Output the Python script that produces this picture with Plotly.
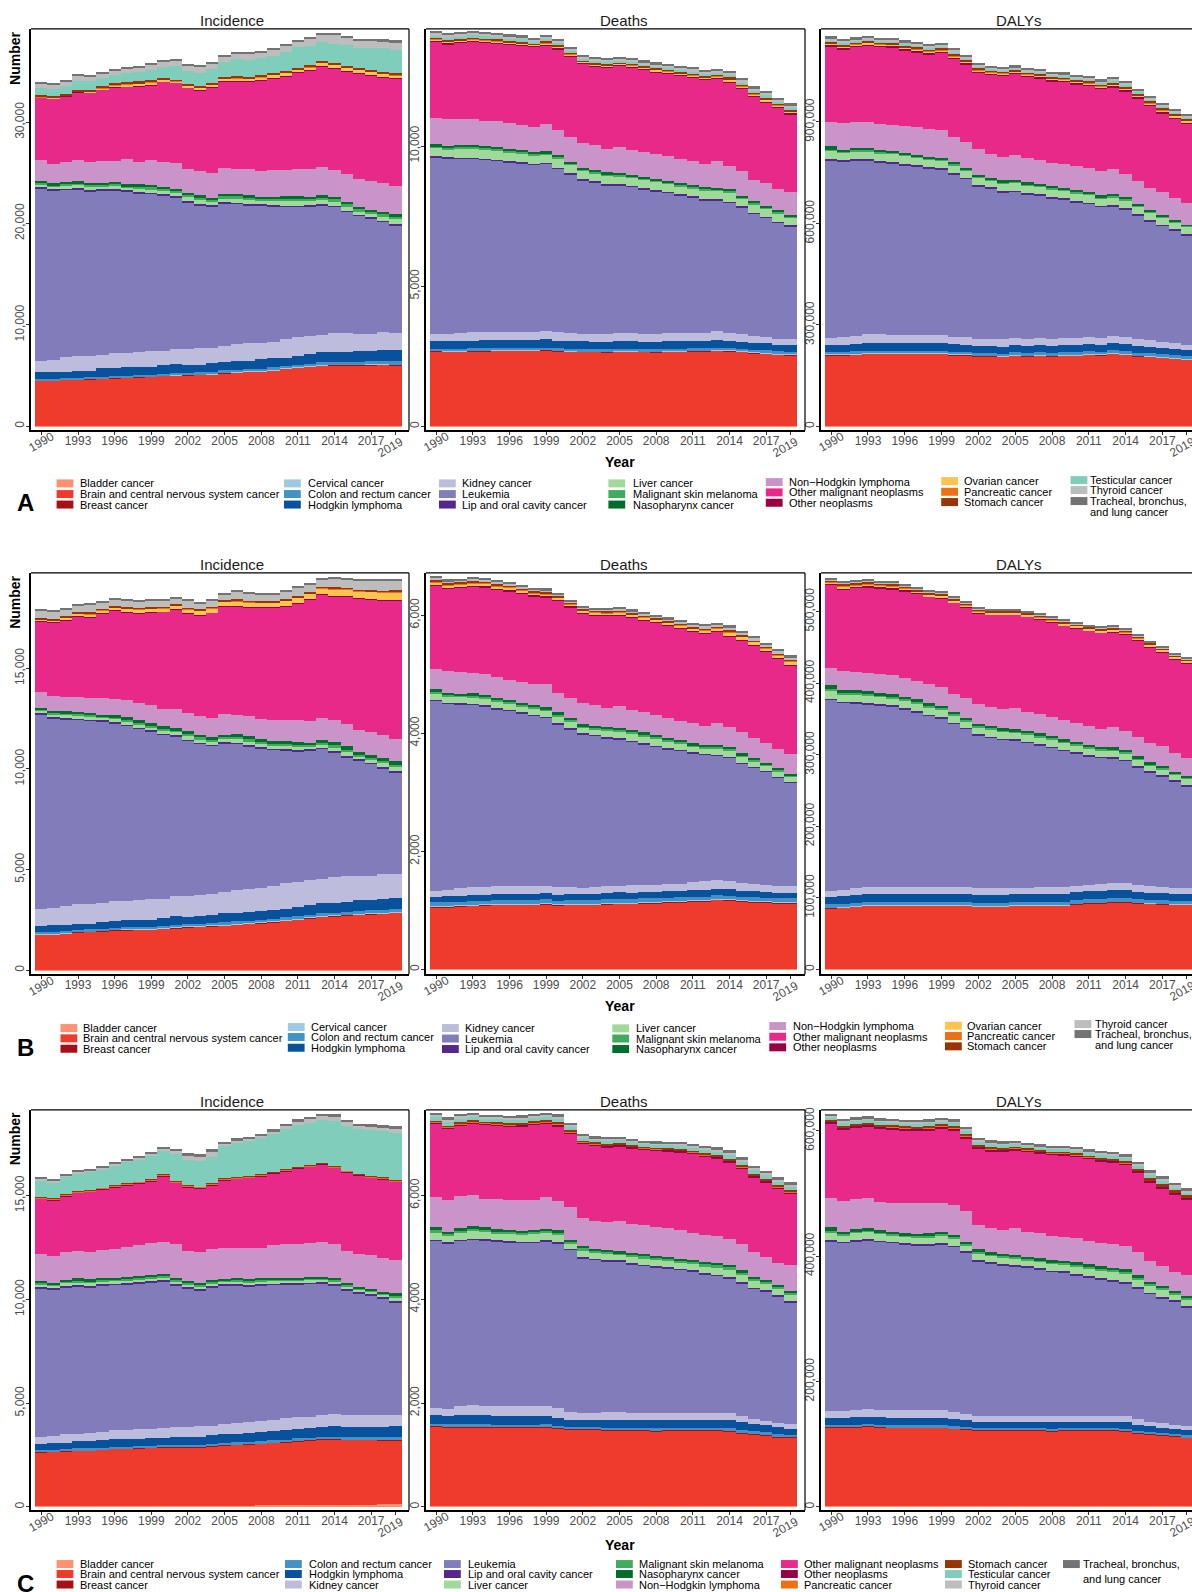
import plotly.graph_objects as go

# ---------------- data ----------------
YEARS = [1990, 1991, 1992, 1993, 1994, 1995, 1996, 1997, 1998, 1999,
         2000, 2001, 2002, 2003, 2004, 2005, 2006, 2007, 2008, 2009,
         2010, 2011, 2012, 2013, 2014, 2015, 2016, 2017, 2018, 2019]
XTICK_VALUES = [1990, 1993, 1996, 1999, 2002, 2005, 2008, 2011, 2014, 2017, 2019]

KEYS = ["bla", "bra", "bre", "cer", "col", "hod", "kid", "leu", "lip", "liv", "mel",
        "nas", "nhl", "omn", "one", "ova", "pan", "sto", "tes", "thy", "tra"]
CAUSE_NAMES = {
    "bla": "Bladder cancer", "bra": "Brain and central nervous system cancer",
    "bre": "Breast cancer", "cer": "Cervical cancer", "col": "Colon and rectum cancer",
    "hod": "Hodgkin lymphoma", "kid": "Kidney cancer", "leu": "Leukemia",
    "lip": "Lip and oral cavity cancer", "liv": "Liver cancer",
    "mel": "Malignant skin melanoma", "nas": "Nasopharynx cancer",
    "nhl": "Non\u2212Hodgkin lymphoma", "omn": "Other malignant neoplasms",
    "one": "Other neoplasms", "ova": "Ovarian cancer", "pan": "Pancreatic cancer",
    "sto": "Stomach cancer", "tes": "Testicular cancer", "thy": "Thyroid cancer",
    "tra": "Tracheal, bronchus, and lung cancer"}
CAUSE_COLORS = {
    "bla": "#FC9272", "bra": "#EF3B2C", "bre": "#A50F15", "cer": "#9ECAE1",
    "col": "#4292C6", "hod": "#08519C", "kid": "#BCBDDC", "leu": "#807DBA",
    "lip": "#54278F", "liv": "#A1D99B", "mel": "#41AB5D", "nas": "#006D2C",
    "nhl": "#C994C7", "omn": "#E7298A", "one": "#980043", "ova": "#FEC44F",
    "pan": "#EC7014", "sto": "#993404", "tes": "#7FCDBB", "thy": "#BDBDBD",
    "tra": "#737373"}

# ---- A: both sexes, Incidence ----
A_inc_bla = [50,50,50,50,50,50,50,50,50,50,50,50,50,50,50,50,50,50,50,50,55,55,55,55,55,55,55,55,55,55]
A_inc_bra = [4450,4450,4515,4550,4610,4645,4710,4745,4810,4845,4910,4975,5005,5040,5075,5205,5270,5335,5370,5465,5600,5700,5795,5925,5960,5960,5960,5990,6025,5960]
A_inc_bre = [25,25,25,25,25,25,25,25,25,25,30,30,30,30,30,30,30,30,30,30,35,35,35,35,35,40,40,40,40,40]
A_inc_cer = [20,20,20,20,20,20,20,20,20,20,20,20,20,20,20,20,20,20,20,20,20,20,20,20,20,20,20,20,20,20]
A_inc_col = [120,120,125,130,135,150,150,160,160,165,180,185,180,185,200,210,215,215,230,235,240,250,270,280,285,290,310,320,330,350]
A_inc_hod = [650,650,645,675,635,820,750,810,740,770,855,880,755,750,865,855,850,785,935,895,825,850,960,985,945,940,1050,1040,1030,1140]
A_inc_kid = [1150,1250,1410,1445,1480,1315,1480,1380,1545,1545,1410,1480,1575,1610,1480,1575,1675,1775,1575,1640,1840,1870,1740,1740,1905,1905,1675,1675,1775,1610]
A_inc_leu = [17040,16710,16550,16520,16250,16250,16090,16020,15660,15530,15330,15000,14510,14120,14020,14090,13860,13590,13590,13400,13040,12870,12840,12770,12450,11950,11660,11360,10900,10670]
A_inc_lip = [100,100,100,100,100,100,100,100,100,100,105,105,105,105,105,105,105,105,105,105,110,110,110,110,110,110,110,110,110,110]
A_inc_liv = [300,300,330,345,360,330,360,280,380,360,360,360,410,445,360,380,445,460,380,395,490,475,410,445,445,445,360,380,445,490]
A_inc_mel = [130,130,145,150,160,145,160,120,165,160,160,160,180,195,160,165,195,200,165,175,215,210,180,195,195,195,160,165,195,215]
A_inc_nas = [160,160,180,195,200,180,200,160,210,200,200,200,230,245,200,210,245,260,210,220,280,265,230,245,245,245,200,210,245,280]
A_inc_nhl = [2135,1970,1970,2035,2070,2135,2100,2465,2265,2465,2495,2560,2300,2395,2465,2560,2395,2530,2530,2660,2560,2725,2725,2825,2660,2790,2790,2855,2825,2790]
A_inc_omn = [6075,6405,6500,6730,6800,7060,7260,7160,7420,7390,7880,7880,8045,7945,8375,8605,8705,8670,8965,9065,9260,9460,9755,9920,10015,10080,10445,10410,10475,10575]
A_inc_one = [40,40,40,40,40,40,40,40,40,40,40,40,40,40,40,40,40,40,40,40,40,40,40,40,40,40,40,40,40,40]
A_inc_ova = [40,40,60,50,80,120,150,180,200,230,180,150,200,230,250,230,260,250,270,290,270,280,280,280,330,310,300,300,300,320]
A_inc_pan = [30,30,30,30,30,40,40,40,40,40,40,30,40,40,40,40,40,40,40,40,40,40,40,40,40,40,40,40,40,40]
A_inc_sto = [220,120,135,75,115,195,195,200,215,215,135,110,115,115,165,115,155,130,145,155,145,135,135,135,150,135,115,115,115,125]
A_inc_tes = [655,720,720,885,950,755,820,920,885,1050,1085,1315,1250,1315,1410,1480,1710,1710,1710,1710,1870,2035,1905,1870,1805,2035,2035,2235,2330,2300]
A_inc_thy = [460,460,525,525,460,430,430,430,460,460,525,525,590,625,495,560,560,560,560,560,625,525,725,725,955,790,690,690,725,790]
A_inc_tra = [130,130,130,130,130,130,130,130,130,130,130,130,130,130,130,130,130,130,130,130,130,130,130,130,130,130,130,130,160,160]

# ---- A: both sexes, Deaths ----
A_dth_bla = [30,30,30,30,30,30,30,30,30,30,30,30,30,30,30,30,30,30,30,30,30,30,30,30,30,30,30,30,30,30]
A_dth_bra = [2650,2640,2640,2660,2660,2670,2670,2670,2670,2690,2660,2640,2630,2630,2620,2635,2635,2630,2620,2635,2635,2650,2650,2670,2660,2630,2590,2570,2530,2520]
A_dth_bre = [15,15,15,15,15,15,15,15,15,15,15,15,15,15,15,15,15,15,15,15,15,15,15,15,15,15,15,15,15,15]
A_dth_cer = [15,15,15,15,15,15,15,15,15,15,15,15,15,15,15,15,15,15,15,15,15,15,15,15,15,15,15,15,15,15]
A_dth_col = [60,60,65,65,65,65,65,65,65,65,65,65,70,70,70,70,70,70,70,70,75,75,75,80,80,85,90,95,95,95]
A_dth_hod = [270,280,280,280,290,290,290,290,280,290,280,280,280,270,280,280,280,270,270,270,270,260,260,270,260,250,240,240,230,230]
A_dth_kid = [260,270,290,310,300,300,300,300,300,300,290,290,260,260,280,290,290,280,280,290,290,290,300,310,280,260,250,240,220,210]
A_dth_leu = [6305,6245,6210,6165,6140,6090,6030,6000,5950,5960,5830,5655,5485,5415,5295,5275,5215,5155,5085,5010,4905,4845,4730,4670,4635,4540,4350,4240,4135,4015]
A_dth_lip = [40,40,40,40,40,40,40,40,40,40,40,40,40,40,40,40,40,40,40,40,40,40,40,40,40,40,40,40,40,40]
A_dth_liv = [300,300,325,340,335,325,325,310,315,290,340,300,290,280,300,280,280,290,300,275,300,275,305,300,325,255,300,275,300,275]
A_dth_mel = [55,55,60,65,63,60,60,57,60,55,65,55,55,55,55,55,55,55,55,50,55,50,60,55,60,50,55,50,55,50]
A_dth_nas = [60,60,65,69,65,65,65,60,64,58,69,60,58,56,60,56,56,58,60,55,60,55,62,60,66,51,60,55,60,55]
A_dth_nhl = [950,950,925,915,890,935,915,915,890,985,890,890,865,890,830,915,880,890,865,890,855,865,830,950,830,880,770,830,745,805]
A_dth_omn = [2730,2670,2715,2750,2775,2740,2785,2810,2845,2785,2870,2870,2845,2810,2905,2905,2940,2920,2930,2940,2965,2965,2990,2930,2965,2940,2965,2870,2905,2785]
A_dth_one = [40,45,45,40,40,40,40,35,35,40,40,35,30,35,35,35,35,35,40,35,35,40,35,40,40,40,35,40,35,40]
A_dth_ova = [30,40,40,45,45,45,40,40,35,40,35,35,30,35,40,35,40,40,45,45,45,50,50,50,55,50,50,55,50,50]
A_dth_pan = [15,20,20,20,20,20,20,20,15,20,15,15,15,15,15,15,15,15,15,15,15,15,15,15,20,15,15,15,15,15]
A_dth_sto = [40,60,50,45,60,80,60,60,50,80,60,50,40,50,60,50,45,50,50,55,55,60,50,50,70,60,50,60,50,55]
A_dth_tes = [70,75,70,75,70,70,70,70,65,70,70,65,60,65,70,65,65,65,65,65,65,70,65,70,75,70,65,70,65,70]
A_dth_thy = [80,90,85,85,85,80,80,75,70,80,70,70,65,70,70,70,70,70,70,70,70,70,70,70,75,70,70,75,70,75]
A_dth_tra = [80,85,80,80,70,68,70,68,62,61,61,62,57,62,66,62,62,69,71,71,71,75,71,73,80,75,71,76,71,86]

# ---- A: both sexes, DALYs ----
A_daly_bla = [2000,2000,2000,2000,2000,2000,2000,2000,2000,2000,2000,2000,2000,2000,2000,2000,2000,2000,2000,2000,2000,2000,2000,2000,2000,2000,2000,2000,2000,2000]
A_daly_bra = [209000,209000,211000,213000,213000,213000,213000,213000,213000,213000,209000,209000,206000,206000,204000,208000,206000,208000,206000,208000,208000,211000,209000,213000,211000,206000,204000,201000,198000,196000]
A_daly_bre = [1000,1000,1000,1000,1000,1000,1000,1000,1000,1000,1000,1000,1000,1000,1000,1000,1000,1000,1000,1000,1000,1000,1000,1000,1000,1000,1000,1000,1000,1000]
A_daly_cer = [1000,1000,1000,1000,1000,1000,1000,1000,1000,1000,1000,1000,1000,1000,1000,1000,1000,1000,1000,1000,1000,1000,1000,1000,1000,1000,1000,1000,1000,1000]
A_daly_col = [6000,6500,7000,7500,7500,7500,7500,7500,7500,7500,7000,7000,7500,7500,7500,7500,7500,7500,7500,7500,7500,7500,7500,8000,8500,8500,9000,9000,9500,9500]
A_daly_hod = [22000,23000,23000,23000,23000,23000,23000,23000,23000,23000,23000,22000,22000,21000,21000,21000,21000,21000,21000,21000,21000,21000,21000,21000,21000,20000,19000,18000,17000,17000]
A_daly_kid = [20000,21000,24000,26000,25000,24000,24000,24000,24000,24000,23000,22000,20000,20000,21000,21000,21000,21000,21000,21000,21000,21000,21000,21000,21000,20000,19000,18000,17000,16000]
A_daly_leu = [526500,520600,517700,513800,508900,507000,501100,497200,490400,487400,479600,467900,450300,445400,433700,431700,426900,422000,414200,409300,401500,393600,386800,383900,376000,365300,351600,342800,333100,321300]
A_daly_lip = [4000,4000,4000,4000,4000,4000,4000,4000,4000,4000,4000,4000,4000,4000,4000,4000,4000,4000,4000,4000,4000,4000,4000,4000,4000,4000,4000,4000,4000,4000]
A_daly_liv = [24000,22000,23000,22000,23000,24000,23000,22000,22000,22000,23000,21000,21000,20000,23000,23000,23000,21000,23000,22000,23000,23000,22000,23000,23000,22000,23000,21000,21000,23000]
A_daly_mel = [3000,3000,3000,3000,3000,3000,3000,3000,3000,3000,3000,3000,3000,3000,3000,3000,3000,3000,3000,3000,3000,3000,3000,3000,3000,3000,3000,3000,3000,3000]
A_daly_nas = [10000,5000,7000,6000,6000,6000,6000,6000,6000,6000,6000,5000,5000,4000,6000,5000,5000,5000,6000,5000,6000,6000,5000,6000,6000,4000,4000,3000,3000,3000]
A_daly_nhl = [72300,78200,75200,78200,76200,76200,78200,81100,81100,81100,75200,77200,76200,70300,70300,74300,73300,70300,68400,72300,72300,70300,72300,73300,68400,68400,65500,70300,65500,63500]
A_daly_omn = [222800,218800,222800,224700,228600,229600,224700,221800,221800,229600,229600,227600,226700,234500,239400,239400,239400,242300,242300,242300,240300,242300,242300,241300,244300,244300,241300,232500,234500,234500]
A_daly_one = [5000,5000,5000,5000,4500,4500,5000,5000,5000,5000,5000,5000,5000,4500,4000,4000,4000,4500,4500,4500,4500,5000,4500,5000,5000,5000,5000,5000,5000,5000]
A_daly_ova = [2500,2500,3000,3500,3000,3000,3000,3000,3000,3000,3000,3000,3000,3000,3000,3000,3000,3000,3000,3000,3000,3500,3500,3500,3500,3500,3500,3500,3500,3500]
A_daly_pan = [1500,1500,1500,1500,1500,1500,1500,1500,1500,1500,1500,1500,1500,1500,1500,1500,1500,1500,1500,1500,1500,1500,1500,1500,1500,1500,1500,1500,1500,1500]
A_daly_sto = [5000,5000,5000,5000,5000,5000,5500,6000,6000,5500,6000,5000,5000,4500,4000,4000,4000,4500,4500,4500,4500,5000,4500,5500,5500,5000,5000,5500,5000,5000]
A_daly_tes = [4000,4500,4500,4500,4000,4000,4500,4500,4500,4500,5000,4500,4500,4000,4000,4000,4000,4000,4000,4000,4000,4500,4000,4500,4500,4500,4500,4500,4500,4500]
A_daly_thy = [4500,4500,4000,4000,4000,4000,4500,5000,5000,4500,5000,4500,4500,4000,4000,4000,4500,4500,4500,4500,4500,4500,4500,5000,5000,4500,4500,5000,4500,4500]
A_daly_tra = [7000,6000,5500,5500,5500,5000,5500,5500,5500,5500,6500,6000,6000,5500,5000,5000,5000,5000,5000,5000,5000,5500,5500,6000,6000,5500,5500,6000,5500,5500]

# ---- B: female, Incidence ----
B_inc_bla = [20,20,20,20,20,20,20,20,20,20,20,20,20,20,20,20,20,20,20,20,20,20,20,20,20,20,20,20,20,20]
B_inc_bra = [1752,1752,1802,1868,1884,1917,1967,1967,2000,2000,2033,2067,2116,2133,2166,2199,2249,2282,2315,2365,2431,2497,2563,2630,2663,2696,2729,2762,2795,2828]
B_inc_bre = [20,20,20,20,20,20,20,20,20,20,25,25,25,25,25,25,25,25,25,25,30,30,30,30,30,30,30,30,30,30]
B_inc_cer = [20,20,20,20,20,20,20,20,20,20,20,20,20,20,20,20,20,20,20,20,20,20,20,20,20,20,20,20,20,20]
B_inc_col = [90,90,90,90,95,95,95,100,100,100,105,105,105,110,110,115,115,120,120,125,125,130,130,135,135,140,140,145,145,150]
B_inc_hod = [284,334,284,284,279,329,312,357,324,357,401,451,368,380,430,474,425,420,469,464,431,443,476,521,487,482,532,511,511,555]
B_inc_kid = [861,861,977,994,994,944,994,944,994,1027,960,994,1060,1076,1027,1027,1159,1176,1126,1159,1259,1259,1225,1192,1275,1292,1209,1192,1242,1159]
B_inc_leu = [9687,9422,9273,9157,9091,9025,8859,8727,8512,8329,8147,7948,7700,7485,7369,7402,7236,7071,6938,6789,6607,6491,6458,6458,6210,5912,5746,5580,5282,5084]
B_inc_lip = [50,50,50,50,50,50,50,50,50,50,50,50,50,50,50,50,50,50,50,50,50,50,50,50,50,50,50,50,50,50]
B_inc_liv = [110,150,150,150,150,125,150,165,170,165,165,165,185,185,165,170,210,200,185,165,185,185,150,165,200,225,165,165,210,225]
B_inc_mel = [50,65,65,65,65,55,65,70,75,70,70,70,85,85,70,75,90,90,85,70,85,85,65,70,90,100,70,70,90,100]
B_inc_nas = [88,116,116,116,116,102,116,129,136,129,129,129,144,144,129,136,164,157,144,129,144,144,116,129,157,172,129,129,164,172]
B_inc_nhl = [778,712,712,745,745,828,828,845,861,878,861,944,911,911,960,1027,911,994,994,1076,1043,1076,1076,1126,1093,1076,1093,1176,1126,1110]
B_inc_omn = [3527,3676,3809,4008,4024,4223,4372,4372,4471,4620,4819,4935,4935,5018,5216,5349,5415,5415,5548,5581,5664,5796,6044,6127,6160,6342,6525,6574,6707,6872]
B_inc_one = [20,20,20,20,20,20,20,20,20,20,20,20,20,20,20,20,20,20,20,20,20,20,20,20,20,20,20,20,20,20]
B_inc_ova = [60,60,100,120,130,120,130,150,160,170,170,170,200,220,210,200,240,230,220,220,250,260,270,290,330,340,350,360,380,400]
B_inc_pan = [20,20,20,20,20,20,20,20,20,20,20,20,20,20,20,20,20,20,20,20,20,20,20,20,30,30,30,30,30,30]
B_inc_sto = [80,80,70,60,60,60,70,60,60,60,60,60,60,50,60,60,70,60,60,60,60,60,60,60,60,50,50,50,50,50]
B_inc_thy = [373,356,343,333,372,300,296,319,309,299,283,299,336,276,292,302,368,372,332,332,385,441,398,378,460,444,450,464,510,473]
B_inc_tra = [60,60,60,60,60,60,60,60,60,60,60,60,60,60,60,60,60,60,60,60,60,60,60,60,70,70,70,80,80,80]

# ---- B: female, Deaths ----
B_dth_bla = [15,15,15,15,15,15,15,15,15,15,15,15,15,15,15,15,15,15,15,15,15,15,15,15,15,15,15,15,15,15]
B_dth_bra = [1044,1044,1055,1067,1072,1084,1084,1084,1084,1095,1072,1084,1084,1084,1095,1101,1101,1112,1112,1123,1129,1140,1140,1168,1157,1140,1129,1123,1112,1112]
B_dth_bre = [10,10,10,10,10,10,10,10,10,10,10,10,10,10,10,10,10,10,10,10,10,10,10,10,10,10,10,10,10,10]
B_dth_cer = [10,10,10,10,10,10,10,10,10,10,10,10,10,10,10,10,10,10,10,10,10,10,10,10,10,10,10,10,10,10]
B_dth_col = [60,60,60,60,60,60,60,60,60,60,60,60,60,60,60,60,60,60,60,60,60,60,60,60,60,60,60,60,60,60]
B_dth_hod = [89,100,89,106,100,106,106,106,106,106,100,106,106,100,106,117,100,106,106,106,100,117,117,106,117,100,100,95,89,89]
B_dth_kid = [96,113,141,130,130,124,135,135,124,113,130,113,96,118,113,107,130,124,124,124,130,124,141,141,124,130,124,124,124,113]
B_dth_leu = [3225,3151,3112,3084,3067,2999,2960,2920,2886,2858,2757,2672,2605,2560,2509,2481,2436,2380,2334,2284,2250,2188,2143,2109,2098,2025,1974,1917,1833,1760]
B_dth_lip = [15,15,15,15,15,15,15,15,15,15,15,15,15,15,15,15,15,15,15,15,15,15,15,15,15,15,15,15,15,15]
B_dth_liv = [115,113,110,117,117,110,110,106,110,103,121,110,99,99,110,110,117,121,121,110,110,99,99,110,110,103,92,88,92,81]
B_dth_mel = [27,26,25,27,27,25,25,24,25,24,28,25,23,23,25,25,27,28,28,25,25,23,23,25,25,24,21,20,21,19]
B_dth_nas = [38,36,34,36,36,34,34,33,34,31,37,34,30,30,34,34,36,37,37,34,34,30,30,34,34,31,28,27,28,24]
B_dth_nhl = [355,361,366,349,355,366,349,355,355,394,338,338,355,355,332,377,338,349,338,349,327,349,327,366,338,366,338,327,327,344]
B_dth_omn = [1409,1397,1425,1465,1465,1482,1499,1493,1493,1476,1561,1549,1521,1521,1555,1538,1566,1549,1561,1555,1561,1538,1561,1549,1532,1549,1578,1549,1532,1504]
B_dth_one = [10,10,10,10,10,10,10,10,10,10,10,10,10,10,10,10,10,10,10,10,10,10,10,10,10,10,10,10,10,10]
B_dth_ova = [45,45,45,45,45,45,45,45,40,40,35,35,35,40,40,40,40,40,40,45,45,45,45,50,60,50,45,50,50,55]
B_dth_pan = [10,10,10,10,10,10,10,10,10,10,10,10,10,10,10,10,10,10,10,10,10,10,10,10,10,10,10,10,10,10]
B_dth_sto = [35,40,35,40,35,40,35,30,30,30,25,25,25,25,25,25,25,25,25,25,25,25,25,25,30,25,20,20,20,20]
B_dth_thy = [25,25,25,25,25,25,25,25,25,25,20,20,20,20,25,25,25,25,25,25,25,30,30,30,35,30,30,30,30,30]
B_dth_tra = [30,30,30,30,30,35,30,25,25,30,25,25,25,25,30,30,30,30,30,30,30,35,35,35,40,35,35,35,35,40]

# ---- B: female, DALYs ----
B_daly_bla = [700,700,700,700,700,700,700,700,700,700,700,700,700,700,700,700,700,700,700,700,700,700,700,700,700,700,700,700,700,700]
B_daly_bra = [85000,85900,87300,88200,88200,88700,88700,88700,88700,88700,88200,88200,87300,87300,87300,88200,88200,88700,88700,88700,90500,91900,91900,93300,93300,91900,91000,90500,89600,89600]
B_daly_bre = [500,500,500,500,500,500,500,500,500,500,500,500,500,500,500,500,500,500,500,500,500,500,500,500,500,500,500,500,500,500]
B_daly_cer = [500,500,500,500,500,500,500,500,500,500,500,500,500,500,500,500,500,500,500,500,500,500,500,500,500,500,500,500,500,500]
B_daly_col = [4500,4500,4500,4500,4500,4500,4500,4500,4500,4500,4500,4500,4500,4500,4500,4500,4500,4500,4500,4500,5000,5000,5000,5000,5000,5000,5000,5000,5000,5000]
B_daly_hod = [10000,10500,11000,11000,11000,11000,11000,11000,10500,10500,10500,10500,10500,10500,10500,10500,10500,10500,10500,10500,10500,10500,10500,10500,10500,10000,9500,9500,9000,9000]
B_daly_kid = [8000,9000,10000,10000,10000,10000,10000,10000,10000,10000,10000,10000,9500,9500,9500,9500,9500,9500,9500,9500,9500,9500,10000,10000,10000,9500,9000,9000,8500,8000]
B_daly_leu = [268000,261000,257300,255500,254100,251800,247600,243900,239300,235600,228600,221700,213800,210600,207800,205900,202700,198500,194800,190600,184600,179500,176800,174900,171200,164300,159200,154500,149000,143000]
B_daly_lip = [1500,1500,1500,1500,1500,1500,1500,1500,1500,1500,1500,1500,1500,1500,1500,1500,1500,1500,1500,1500,1500,1500,1500,1500,1500,1500,1500,1500,1500,1500]
B_daly_liv = [11000,10500,10800,10500,10000,10000,10500,10500,10500,10500,10000,9000,9600,9600,9400,9000,9600,10000,10000,9600,10000,9000,8700,8700,9000,9000,8100,8500,7800,8500]
B_daly_mel = [2000,2000,2000,2000,1900,1900,2000,2000,2000,2000,1900,1700,1800,1800,1800,1700,1800,1900,1900,1800,1900,1700,1600,1600,1700,1700,1500,1600,1500,1600]
B_daly_nas = [5500,3700,3900,3700,3400,3400,3700,3700,3700,3700,3400,3200,3400,3400,3200,3200,3400,3400,3400,3400,3400,3200,3100,3100,3200,3200,2900,2900,2700,2900]
B_daly_nhl = [24100,26400,26400,26400,26900,26400,25500,25500,26400,25900,25000,27800,27800,26400,26400,29200,26900,26400,26400,26400,26400,26400,25900,28200,26900,27800,26900,27800,26400,25500]
B_daly_omn = [116200,114800,117100,119500,119900,120800,122200,121800,121800,124500,127300,126400,126400,128700,132000,130600,132900,132900,132000,132400,132000,133300,133800,132900,134300,134300,134300,131000,131000,132000]
B_daly_one = [800,800,800,800,800,800,800,800,800,800,800,800,800,800,800,800,800,800,800,800,800,800,800,800,800,800,800,800,800,800]
B_daly_ova = [2800,3000,3000,3000,3000,3000,3000,2800,2600,2600,2400,2300,2300,2300,2300,2300,2100,2200,2400,2300,2300,2300,2400,2600,2500,2400,2400,2300,2300,2100]
B_daly_pan = [500,500,500,500,500,500,500,500,500,500,500,500,500,500,500,500,500,500,500,500,500,500,500,500,500,500,500,500,500,500]
B_daly_sto = [2500,3000,2800,2800,2600,2800,2600,2500,2200,2200,2000,1900,1900,1900,1900,1900,1700,1800,2000,1900,1900,1900,2000,2200,2100,2000,2000,1900,1900,1700]
B_daly_thy = [1500,1600,1600,1600,1500,1600,1500,1500,1400,1400,1300,1200,1200,1200,1200,1200,1100,1100,1200,1200,1200,1200,1200,1300,1300,1200,1200,1200,1200,1100]
B_daly_tra = [2000,2000,1900,1900,1800,1900,1800,1800,1700,1700,1600,1500,1500,1500,1500,1500,1300,1400,1500,1500,1500,1500,1500,1700,1600,1500,1500,1400,1400,1300]

# ---- C: male, Incidence ----
C_inc_bla = [40,40,40,40,40,45,45,45,50,50,50,55,55,55,60,60,65,65,70,75,80,85,90,95,100,105,110,115,120,130]
C_inc_bra = [2605,2637,2653,2685,2685,2712,2760,2760,2787,2803,2835,2830,2830,2830,2857,2906,2933,2949,2976,3019,3046,3089,3116,3159,3154,3133,3128,3123,3086,3076]
C_inc_bre = [10,10,10,10,10,10,10,10,10,10,10,10,10,10,10,10,10,10,10,10,10,10,10,10,10,10,10,10,10,10]
C_inc_col = [80,80,80,85,85,90,90,90,90,95,95,95,100,100,105,105,110,110,110,115,115,120,120,125,125,130,130,130,135,135]
C_inc_hod = [311,311,311,338,354,381,349,381,349,360,344,376,371,371,414,414,409,425,441,436,436,431,463,458,490,469,469,469,496,528]
C_inc_kid = [321,337,401,369,385,369,433,433,449,449,465,481,481,513,481,513,529,529,529,545,593,593,561,593,609,609,593,593,609,561]
C_inc_leu = [7154,7073,7105,7105,7041,7073,7025,7025,7057,7073,7073,6833,6705,6560,6673,6673,6625,6560,6544,6512,6448,6400,6400,6352,6192,5983,5871,5759,5615,5438]
C_inc_lip = [60,60,60,60,60,60,60,60,60,60,60,60,60,60,60,60,60,60,60,60,60,60,60,60,60,60,60,60,60,60]
C_inc_liv = [145,123,137,152,145,130,130,130,130,130,130,145,130,145,130,123,130,137,130,130,123,123,123,115,130,145,108,108,115,166]
C_inc_mel = [64,55,61,67,64,58,58,58,58,58,58,64,58,64,58,55,58,61,58,58,55,55,55,51,58,64,48,48,51,74]
C_inc_nas = [112,95,107,118,112,101,101,101,101,101,101,112,101,112,101,95,101,107,101,101,95,95,95,90,101,112,84,84,90,129]
C_inc_nhl = [1314,1282,1347,1314,1330,1363,1395,1459,1475,1555,1571,1603,1443,1475,1507,1491,1475,1491,1475,1555,1603,1635,1651,1683,1635,1523,1571,1635,1635,1603]
C_inc_omn = [2645,2693,2677,2805,2885,2917,2966,2966,2982,2966,3158,2966,3078,3062,3062,3254,3318,3366,3446,3462,3527,3623,3655,3719,3687,3767,3799,3735,3767,3767]
C_inc_one = [30,30,30,30,30,30,30,30,30,40,30,30,30,30,30,30,30,30,30,30,30,30,30,30,30,40,30,30,40,30]
C_inc_pan = [30,30,40,40,30,40,40,40,40,50,40,40,40,40,40,40,40,40,40,40,40,40,40,40,40,50,40,40,50,40]
C_inc_sto = [20,20,20,20,20,20,20,20,20,20,20,20,20,20,20,20,20,20,20,20,20,20,20,20,20,20,20,20,20,20]
C_inc_tes = [802,769,850,834,898,882,962,1026,1074,1090,1122,1282,1218,1234,1266,1555,1651,1683,1731,1795,1956,1988,2036,2036,2164,2132,2132,2196,2212,2276]
C_inc_thy = [70,70,65,95,65,65,75,75,75,115,125,165,210,210,220,125,125,115,135,145,145,175,165,195,195,195,165,175,175,195]
C_inc_tra = [58,58,47,65,47,47,53,53,53,77,83,107,143,143,149,83,83,77,89,95,95,114,108,126,126,126,108,114,114,126]

# ---- C: male, Deaths ----
C_dth_bla = [20,20,20,20,20,20,20,20,20,20,20,20,20,20,20,20,20,20,20,20,20,20,20,20,20,20,20,20,20,20]
C_dth_bra = [1533,1520,1520,1520,1520,1507,1507,1507,1507,1520,1488,1475,1469,1469,1456,1456,1456,1456,1443,1456,1456,1456,1456,1456,1443,1405,1379,1360,1328,1315]
C_dth_bre = [5,5,5,5,5,5,5,5,5,5,5,5,5,5,5,5,5,5,5,5,5,5,5,5,5,5,5,5,5,5]
C_dth_col = [45,45,45,50,50,50,50,50,50,50,50,45,45,45,45,50,50,50,50,50,50,50,50,50,50,55,55,55,55,55]
C_dth_hod = [162,155,175,170,170,170,170,163,163,150,157,136,130,130,143,150,138,138,150,138,138,138,138,138,150,152,145,133,133,113]
C_dth_kid = [148,148,173,193,180,186,186,193,193,193,193,148,141,141,160,148,148,141,141,148,148,148,141,148,148,109,96,83,77,96]
C_dth_leu = [3214,3189,3189,3189,3189,3176,3163,3156,3156,3176,3169,3124,2983,2951,2900,2900,2861,2836,2810,2784,2752,2720,2675,2637,2592,2566,2502,2495,2438,2335]
C_dth_lip = [20,20,20,20,20,20,20,20,20,20,20,20,20,20,20,20,20,20,20,20,20,20,20,20,20,20,20,20,20,20]
C_dth_liv = [150,125,145,155,150,135,140,135,145,145,150,110,135,125,125,110,125,130,135,125,125,125,135,145,155,145,135,125,125,125]
C_dth_mel = [37,29,34,37,36,32,33,32,34,34,36,26,32,29,29,26,29,30,31,29,29,29,32,34,36,34,31,29,29,29]
C_dth_nas = [57,39,46,52,51,45,45,45,46,46,51,37,45,39,39,37,39,39,39,39,39,39,45,46,46,46,39,39,39,39]
C_dth_nhl = [590,622,610,590,545,578,584,590,584,610,565,629,539,545,545,597,565,558,545,558,545,526,526,513,501,513,494,449,436,501]
C_dth_omn = [1399,1367,1367,1380,1425,1425,1405,1418,1437,1412,1431,1412,1431,1444,1444,1431,1457,1457,1476,1482,1508,1527,1508,1508,1476,1444,1431,1444,1425,1380]
C_dth_one = [25,25,25,25,25,25,25,25,25,25,25,25,25,25,25,25,25,25,25,25,25,25,25,25,25,25,25,25,25,25]
C_dth_pan = [15,15,15,15,15,15,15,15,15,15,15,15,15,15,15,15,15,15,15,15,15,15,15,15,15,15,15,15,15,15]
C_dth_sto = [25,25,25,25,25,25,25,25,30,40,40,30,20,20,20,20,20,20,20,20,20,20,20,20,25,25,25,25,25,25]
C_dth_tes = [70,75,75,70,65,65,70,70,65,60,65,65,65,55,65,60,60,60,60,60,65,65,70,70,80,75,75,75,75,75]
C_dth_thy = [30,35,35,30,30,30,30,30,30,25,30,30,30,25,25,25,25,25,25,25,25,25,30,30,30,30,30,30,30,30]
C_dth_tra = [40,50,50,45,40,40,45,50,45,45,60,40,40,35,40,40,35,35,35,40,40,40,50,50,60,55,55,55,55,55]

# ---- C: male, DALYs ----
C_daly_bla = [1500,1500,1500,1500,1500,1500,1500,1500,1500,1500,1500,1500,1500,1500,1500,1500,1500,1500,1500,1500,1500,1500,1500,1500,1500,1500,1500,1500,1500,1500]
C_daly_bra = [125900,125900,125900,127000,125900,124900,124900,124900,124900,124900,123300,122200,120600,120600,120600,120600,120600,120600,119600,120600,120600,120600,120600,120600,119600,116400,114300,112700,111100,108900]
C_daly_bre = [300,300,300,300,300,300,300,300,300,300,300,300,300,300,300,300,300,300,300,300,300,300,300,300,300,300,300,300,300,300]
C_daly_col = [3500,3500,3500,3500,3500,3500,3500,3500,3500,3500,3500,3500,3500,3500,3500,3500,3500,3500,3500,3500,3500,3500,3500,3500,3500,3500,3500,3500,3500,3500]
C_daly_hod = [11500,11500,12000,12000,12000,12000,12000,11500,11500,11500,11000,10500,10000,10000,10000,10000,10000,10000,10000,10000,10000,10000,10000,10000,10000,9500,9000,8500,8500,8000]
C_daly_kid = [11000,11000,12000,12500,12000,12000,12000,12500,12500,12500,12000,10000,9500,9500,10000,10000,10000,10000,9500,10000,10000,10000,10000,10000,10000,8500,7500,7000,6500,6500]
C_daly_leu = [270400,267700,268800,268800,267700,267200,264600,263500,263500,264600,263500,258200,246500,242800,240100,238500,235900,233200,230600,227900,224200,221000,217300,214600,211500,208800,204000,199800,196100,190200]
C_daly_lip = [2000,2000,2000,2000,2000,2000,2000,2000,2000,2000,2000,2000,2000,2000,2000,2000,2000,2000,2000,2000,2000,2000,2000,2000,2000,2000,2000,2000,2000,2000]
C_daly_liv = [12000,10000,11400,11400,11000,10300,10300,10300,11000,12100,11400,9300,11000,10300,10000,10300,10300,10300,11000,11400,12100,12100,12100,12700,13800,13100,11400,11400,10300,10300]
C_daly_mel = [2200,1800,2100,2100,2000,1900,1900,1900,2000,2200,2100,1700,2000,1900,1800,1900,1900,1900,2000,2100,2200,2200,2200,2400,2500,2400,2100,2100,1900,1900]
C_daly_nas = [7000,3600,4000,4000,4000,3700,3700,3700,4000,4300,4000,3300,4000,3700,3600,3700,3700,3700,4000,4000,4300,4300,4300,4500,4900,4700,4000,4000,3700,3700]
C_daly_nhl = [45100,49400,47300,47800,45100,46200,47800,49900,47800,46200,47800,49400,38800,39800,38800,42500,39800,39800,38800,38200,38200,37200,38200,37200,36100,35600,32900,31900,30300,32900]
C_daly_omn = [119500,114200,114700,114200,116800,117400,116800,114700,116800,117400,117900,116800,122100,122100,124800,124800,127400,127400,129000,130100,130100,130600,129000,130100,130100,127400,124800,123200,122100,121100]
C_daly_one = [2500,3000,3000,3000,3000,3000,3000,3000,3000,3500,3500,3000,3000,3000,3000,2500,2500,2500,2500,2500,2500,2500,3000,3000,3000,3000,3500,3500,3500,3000]
C_daly_pan = [800,800,800,800,800,800,800,800,800,800,800,800,800,800,800,800,800,800,800,800,800,800,800,800,800,800,800,800,800,800]
C_daly_sto = [2500,2500,2500,2500,2500,2500,2500,3000,3000,3500,3500,3000,2500,2500,2500,2000,2000,2000,2000,2000,2000,2000,2500,2500,2500,2500,3000,3000,3000,2500]
C_daly_tes = [4000,4500,4500,4500,4500,4500,4500,5000,5000,5000,5000,5000,5000,5000,4500,4500,4500,4500,4500,4500,5000,5000,5000,5000,5000,5500,6000,5500,5500,5000]
C_daly_thy = [2000,2000,2000,2000,2000,2000,2000,2000,2000,2000,2000,2000,2000,2000,2000,1800,1800,1800,1800,1800,2000,2000,2000,2000,2000,2000,2500,2500,2500,2200]
C_daly_tra = [3500,3500,3500,3500,3500,3500,3500,3500,3500,3500,3500,3500,4000,4000,3500,3000,3000,3000,3000,3000,3000,3000,3500,3500,3500,3500,4500,4500,4500,4000]

PANEL_TITLES = ["Incidence", "Deaths", "DALYs"]
Y_TICKS = {
    "A_inc": [0, 10000, 20000, 30000], "A_dth": [0, 5000, 10000], "A_daly": [0, 300000, 600000, 900000],
    "B_inc": [0, 5000, 10000, 15000], "B_dth": [0, 2000, 4000, 6000],
    "B_daly": [0, 100000, 200000, 300000, 400000, 500000],
    "C_inc": [0, 5000, 10000, 15000], "C_dth": [0, 2000, 4000, 6000], "C_daly": [0, 200000, 400000, 600000],
}

# ---------------- layout constants ----------------
W, H = 1192, 1592
FONT = "Liberation Sans, Arial, Helvetica, sans-serif"
COLS = [(31, 409), (426, 805), (821, 1192)]
ROWS = [(26, 428), (571, 973), (1109, 1510)]
XR = [[1989.15, 2020.1], [1989.17, 2020.18], [1989.17, 2019.41]]
YR = {
    "A_inc": [-394, 39212], "A_dth": [-132, 14174], "A_daly": [-10900, 1174900],
    "B_inc": [-198, 19742], "B_dth": [-79, 6717], "B_daly": [-6555, 554100],
    "C_inc": [-159, 19138], "C_dth": [-63, 7648], "C_daly": [-5260, 633500],
}
TITLE_X = [232, 624, 1019]


def px(x):
    return x / W


def py(y):
    return 1 - y / H


def panel_data(prefix):
    g = globals()
    return [(k, g[f"{prefix}_{k}"]) for k in KEYS if f"{prefix}_{k}" in g]


fig = go.Figure()
shapes, annos = [], []
layout = {}

idx = 0
for r, row in enumerate(["A", "B", "C"]):
    for c, kind in enumerate(["inc", "dth", "daly"]):
        idx += 1
        prefix = f"{row}_{kind}"
        sid = "" if idx == 1 else str(idx)
        for k, vals in panel_data(prefix):
            fig.add_trace(go.Bar(
                x=YEARS, y=vals, width=1, name=CAUSE_NAMES[k],
                marker=dict(color=CAUSE_COLORS[k], line=dict(width=0)),
                xaxis="x" + sid, yaxis="y" + sid, showlegend=False,
                hovertemplate="%{x}: %{y:,}<extra>" + CAUSE_NAMES[k] + "</extra>"))
        x0, x1 = COLS[c]
        top, bot = ROWS[r]
        layout["xaxis" + sid] = dict(
            domain=[px(x0), px(x1)], range=XR[c], anchor="y" + sid,
            tickvals=XTICK_VALUES,
            ticktext=[("" if v in (1990, 2019) else str(v)) for v in XTICK_VALUES],
            showline=True, linecolor="black", linewidth=1.6, mirror=False,
            ticks="outside", ticklen=3, tickcolor="#333333", tickwidth=1,
            ticklabelstandoff=-4,
            tickfont=dict(size=12, color="#4d4d4d", family=FONT),
            showgrid=False, zeroline=False, fixedrange=True)
        layout["yaxis" + sid] = dict(
            domain=[py(bot), py(top)], range=YR[prefix], anchor="x" + sid,
            tickvals=Y_TICKS[prefix], tickformat=",d", tickangle=-90,
            showline=True, linecolor="black", linewidth=1.6, mirror=False,
            ticks="outside", ticklen=3, tickcolor="#333333", tickwidth=1,
            ticklabelstandoff=-3,
            tickfont=dict(size=12, color="#4d4d4d", family=FONT),
            showgrid=False, zeroline=False, fixedrange=True)
        # top border and right border
        shapes.append(dict(type="line", xref="paper", yref="paper", x0=px(x0), x1=px(x1),
                           y0=py(top), y1=py(top), line=dict(color="black", width=1.2)))
        if c < 2:
            shapes.append(dict(type="line", xref="paper", yref="paper", x0=px(x1), x1=px(x1),
                               y0=py(bot), y1=py(top), line=dict(color="black", width=1.2)))
        # angled first/last year labels
        annos.append(dict(text="1990", xref="x" + sid, yref="paper", x=1990, y=py(bot + 12),
                          textangle=-30, showarrow=False, xanchor="center", yanchor="middle",
                          font=dict(size=12, color="#4d4d4d", family=FONT)))
        annos.append(dict(text="2019", xref="x" + sid, yref="paper", x=2018.62, y=py(bot + 17),
                          textangle=-30, showarrow=False, xanchor="center", yanchor="middle",
                          font=dict(size=12, color="#4d4d4d", family=FONT)))
        # panel title
        annos.append(dict(text=PANEL_TITLES[c], xref="paper", yref="paper",
                          x=px(TITLE_X[c]), y=py(top - 8), showarrow=False,
                          xanchor="center", yanchor="middle",
                          font=dict(size=15, color="#1a1a1a", family=FONT)))

# Axis titles and row letters
for (ny, yy, ly, lx_letter) in [(55, 459.5, 500.5, "A"), (600, 1004.5, 1046.5, "B"),
                                (1137.5, 1544.5, 1583.5, "C")]:
    annos.append(dict(text="<b>Number</b>", xref="paper", yref="paper", x=px(15), y=py(ny),
                      textangle=-90, showarrow=False, xanchor="center", yanchor="middle",
                      font=dict(size=14, color="black", family=FONT)))
    annos.append(dict(text="<b>Year</b>", xref="paper", yref="paper", x=px(620), y=py(yy),
                      showarrow=False, xanchor="center", yanchor="middle",
                      font=dict(size=14, color="black", family=FONT)))
    annos.append(dict(text="<b>" + lx_letter + "</b>", xref="paper", yref="paper", x=px(25),
                      y=py(ly), showarrow=False, xanchor="center", yanchor="middle",
                      font=dict(size=24, color="black", family=FONT)))

# Legends (one block per row)
LEGENDS = [
    [(56.6, 77.5, [("bla", 481.3), ("bra", 492), ("bre", 502.5)]),
     (284, 306, [("cer", 481.3), ("col", 492), ("hod", 502.5)]),
     (439, 460, [("kid", 481.3), ("leu", 492), ("lip", 502.5)]),
     (608.4, 630.5, [("liv", 481.3), ("mel", 492), ("nas", 502.5)]),
     (765.8, 786.7, [("nhl", 480), ("omn", 490.3), ("one", 500.7)]),
     (941.2, 962, [("ova", 479), ("pan", 489.7), ("sto", 500)]),
     (1070.6, 1088, [("tes", 478), ("thy", 488), ("tra", 499)], 509.5)],
    [(60.5, 81.3, [("bla", 1027), ("bra", 1037.3), ("bre", 1047.7)]),
     (287.8, 309, [("cer", 1026), ("col", 1036), ("hod", 1046.7)]),
     (442, 462.8, [("kid", 1027), ("leu", 1037.5), ("lip", 1048)]),
     (612.3, 634.3, [("liv", 1027.3), ("mel", 1037.5), ("nas", 1048)]),
     (769.3, 790.5, [("nhl", 1025), ("omn", 1035.7), ("one", 1046.3)]),
     (945, 965.2, [("ova", 1024.7), ("pan", 1035), ("sto", 1045.3)]),
     (1074.5, 1092.6, [("thy", 1023), ("tra", 1033)], 1044)],
    [(56.6, 77.5, [("bla", 1564), ("bra", 1574), ("bre", 1584.5)]),
     (285, 307, [("col", 1564), ("hod", 1574), ("kid", 1584.5)]),
     (444, 466, [("leu", 1564), ("lip", 1574), ("liv", 1584.5)]),
     (616, 637, [("mel", 1564), ("nas", 1574), ("nhl", 1584.5)]),
     (781, 802, [("omn", 1564), ("one", 1574), ("pan", 1584.5)]),
     (945, 966, [("sto", 1564), ("tes", 1574), ("thy", 1584.5)]),
     (1063, 1081, [("tra", 1564)], 1579)],
]
SW_W, SW_H = 16.8, 8
for block in LEGENDS:
    for col in block:
        sx, tx, items = col[0], col[1], col[2]
        for k, yc in items:
            shapes.append(dict(type="rect", xref="paper", yref="paper",
                               x0=px(sx), x1=px(sx + SW_W), y0=py(yc + SW_H / 2), y1=py(yc - SW_H / 2),
                               fillcolor=CAUSE_COLORS[k], line=dict(width=0)))
            label = "Tracheal, bronchus," if k == "tra" else CAUSE_NAMES[k]
            annos.append(dict(text=label, xref="paper", yref="paper", x=px(tx), y=py(yc),
                              showarrow=False, xanchor="left", yanchor="middle",
                              font=dict(size=11, color="black", family=FONT)))
        if len(col) > 3:
            annos.append(dict(text="and lung cancer", xref="paper", yref="paper", x=px(tx),
                              y=py(col[3]), showarrow=False, xanchor="left", yanchor="middle",
                              font=dict(size=11, color="black", family=FONT)))

fig.update_layout(
    width=W, height=H, margin=dict(l=0, r=0, t=0, b=0, pad=0),
    paper_bgcolor="white", plot_bgcolor="white",
    barmode="stack", bargap=0, showlegend=False,
    font=dict(family=FONT, color="black"),
    shapes=shapes, annotations=annos, **layout)

fig.write_html(
    "out.html", config={"displayModeBar": False, "responsive": False},
    post_script="document.body.style.margin='0px';document.body.style.padding='0px';"
                "document.documentElement.style.overflow='hidden';")
